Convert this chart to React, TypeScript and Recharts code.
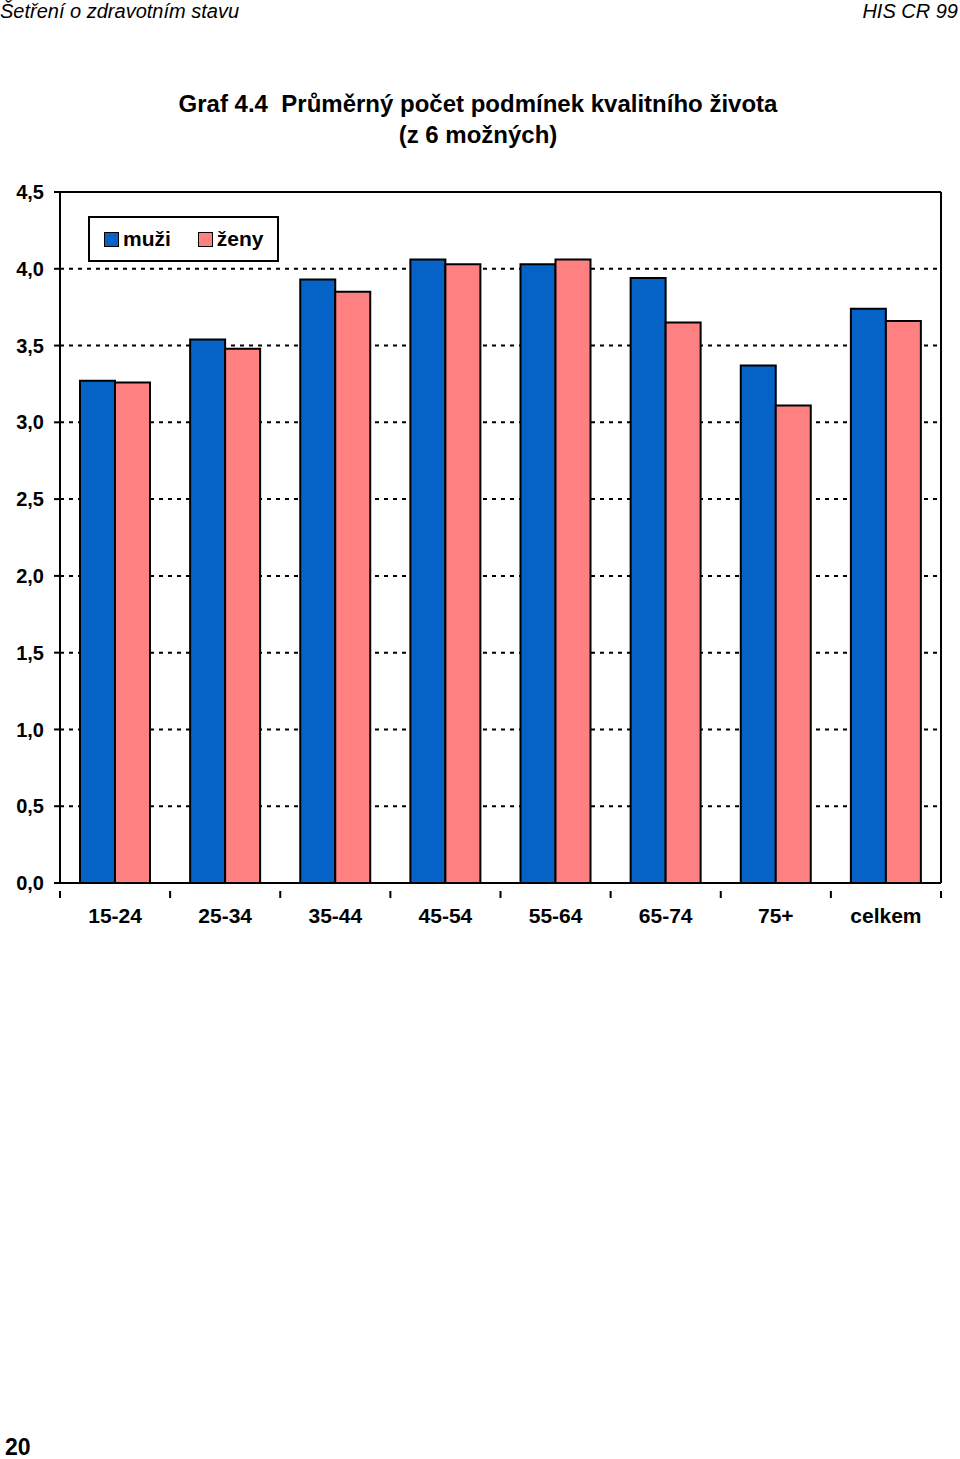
import { BarChart, Bar, XAxis, YAxis, CartesianGrid } from "recharts";

const categories = ["15-24", "25-34", "35-44", "45-54", "55-64", "65-74", "75+", "celkem"];
const muzi = [3.27, 3.54, 3.93, 4.06, 4.03, 3.94, 3.37, 3.74];
const zeny = [3.26, 3.48, 3.85, 4.03, 4.06, 3.65, 3.11, 3.66];
const yTicks = [0, 0.5, 1, 1.5, 2, 2.5, 3, 3.5, 4, 4.5];

const series = [
  { key: "muzi", name: "muži", color: "#0563C8" },
  { key: "zeny", name: "ženy", color: "#FF8080" },
];

const data = categories.map((cat, i) => ({ cat, muzi: muzi[i], zeny: zeny[i] }));

const FONT = "Arial, 'Liberation Sans', Helvetica, sans-serif";
const CHART_W = 960;
const MARGIN = { top: 12, right: 19, left: 0, bottom: 37 };
const Y_AXIS_W = 60;
// width of one category band, derived from plot width
const BAND = (CHART_W - MARGIN.left - MARGIN.right - Y_AXIS_W) / categories.length;

function fmt(v: number) {
  return v.toFixed(1).replace(".", ",");
}

function XTick({ x, y, payload, index }: any) {
  const half = BAND / 2;
  return (
    <g>
      <line x1={x - half} x2={x - half} y1={y} y2={y + 7} stroke="#000" strokeWidth={2} />
      {index === categories.length - 1 && (
        <line x1={x + half} x2={x + half} y1={y} y2={y + 7} stroke="#000" strokeWidth={2} />
      )}
      <text
        x={x}
        y={y + 32}
        textAnchor="middle"
        fontFamily={FONT}
        fontWeight="bold"
        fontSize={21}
        fill="#000"
      >
        {payload.value}
      </text>
    </g>
  );
}

function LegendBox() {
  return (
    <div
      style={{
        position: "absolute",
        left: 88,
        top: 216,
        width: 187,
        height: 42,
        border: "2px solid #000",
        background: "#fff",
        display: "flex",
        alignItems: "center",
        fontFamily: FONT,
        fontWeight: "bold",
        fontSize: 21,
      }}
    >
      {series.map((s, i) => (
        <div
          key={s.key}
          style={{ display: "flex", alignItems: "center", marginLeft: i === 0 ? 14 : 27 }}
        >
          <span
            style={{
              display: "inline-block",
              width: 13,
              height: 13,
              background: s.color,
              border: "1.5px solid #000",
              marginRight: 4,
            }}
          />
          <span>{s.name}</span>
        </div>
      ))}
    </div>
  );
}

export default function App() {
  return (
    <div
      style={{
        position: "absolute",
        left: 0,
        top: 0,
        width: 960,
        height: 1459,
        background: "#fff",
        fontFamily: FONT,
        color: "#000",
      }}
    >
      <div style={{ position: "absolute", left: 0, top: 0, fontStyle: "italic", fontSize: 20 }}>
        Šetření o zdravotním stavu
      </div>
      <div style={{ position: "absolute", right: 2, top: 0, fontStyle: "italic", fontSize: 20 }}>
        HIS CR 99
      </div>
      <div
        style={{
          position: "absolute",
          left: 0,
          top: 88,
          width: 956,
          textAlign: "center",
          fontWeight: "bold",
          fontSize: 24,
          lineHeight: "31px",
        }}
      >
        <div style={{ whiteSpace: "pre" }}>Graf 4.4  Průměrný počet podmínek kvalitního života</div>
        <div>(z 6 možných)</div>
      </div>

      <div style={{ position: "absolute", left: 0, top: 180 }}>
        <BarChart
          width={CHART_W}
          height={780}
          data={data}
          margin={MARGIN}
          barCategoryGap={20}
          barGap={0}
        >
          <CartesianGrid
            vertical={false}
            stroke="#000"
            strokeWidth={2}
            strokeDasharray="4 5"
          />
          {/* solid frame on the top and right of the plot area */}
          <CartesianGrid
            stroke="#000"
            strokeWidth={2}
            horizontalCoordinatesGenerator={({ offset }: any) => [offset.top]}
            verticalCoordinatesGenerator={({ offset }: any) => [offset.left + offset.width]}
          />
          <XAxis
            dataKey="cat"
            axisLine={{ stroke: "#000", strokeWidth: 2 }}
            tickLine={false}
            tick={<XTick />}
            interval={0}
            height={40}
          />
          <YAxis
            domain={[0, 4.5]}
            ticks={yTicks}
            width={Y_AXIS_W}
            tickFormatter={fmt}
            axisLine={{ stroke: "#000", strokeWidth: 2 }}
            tickLine={{ stroke: "#000", strokeWidth: 2 }}
            tickSize={6}
            tickMargin={10}
            tick={{ fill: "#000", fontSize: 20, fontWeight: "bold", fontFamily: FONT }}
          />
          {series.map((s) => (
            <Bar
              key={s.key}
              dataKey={s.key}
              name={s.name}
              fill={s.color}
              stroke="#000"
              strokeWidth={2}
              isAnimationActive={false}
            />
          ))}
        </BarChart>
      </div>

      <LegendBox />

      <div style={{ position: "absolute", left: 5, top: 1434, fontWeight: "bold", fontSize: 23 }}>20</div>
    </div>
  );
}
